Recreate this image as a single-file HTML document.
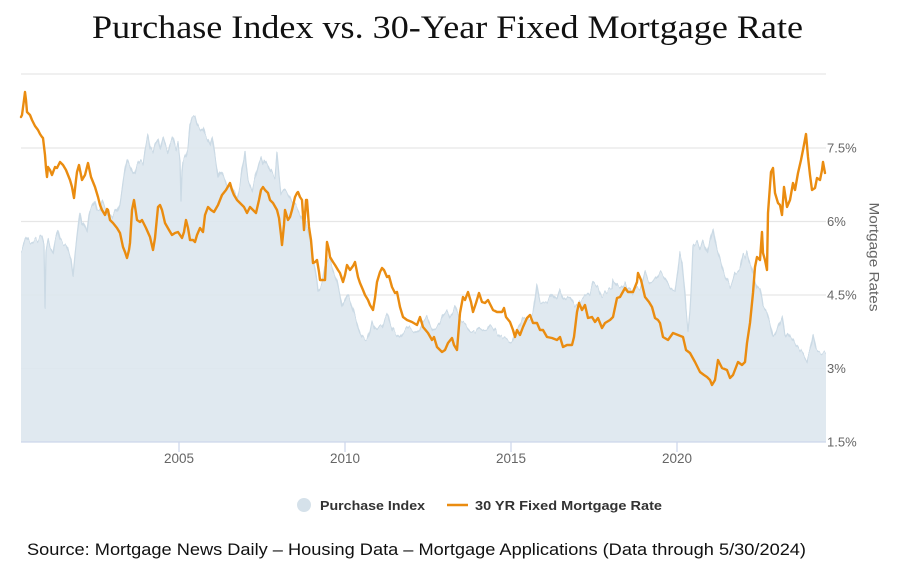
<!DOCTYPE html>
<html>
<head>
<meta charset="utf-8">
<style>
  html, body { margin: 0; padding: 0; background: #ffffff; }
  body { width: 898px; height: 570px; overflow: hidden; }
  svg { display: block; }
</style>
</head>
<body>
<svg width="898" height="570" viewBox="0 0 898 570" xmlns="http://www.w3.org/2000/svg">
  <defs>
    <filter id="rough" filterUnits="userSpaceOnUse" x="0" y="60" width="898" height="400">
      <feTurbulence type="fractalNoise" baseFrequency="0.45 0.002" numOctaves="1" seed="7" result="noise"/>
      <feColorMatrix in="noise" type="matrix" values="1 0 0 0 0  0 0 0 0 0.5  0 0 0 0 0.5  0 0 0 0 1" result="nm"/>
      <feDisplacementMap in="SourceGraphic" in2="nm" scale="10" xChannelSelector="G" yChannelSelector="R"/>
    </filter>
    <clipPath id="plotclip">
      <rect x="21" y="60" width="805" height="382"/>
    </clipPath>
  </defs>
  <rect x="0" y="0" width="898" height="570" fill="#ffffff"/>

  <!-- Title -->
  <text x="92" y="38" font-family="'Liberation Serif', serif" font-size="33" fill="#111" textLength="711" lengthAdjust="spacingAndGlyphs">Purchase Index vs. 30-Year Fixed Mortgage Rate</text>

  <!-- Gridlines -->
  <g stroke="#e6e6e6" stroke-width="1.2">
    <line x1="21" y1="74" x2="826" y2="74"/>
    <line x1="21" y1="148" x2="826" y2="148"/>
    <line x1="21" y1="221.5" x2="826" y2="221.5"/>
    <line x1="21" y1="295" x2="826" y2="295"/>
    <line x1="21" y1="368.5" x2="826" y2="368.5"/>
  </g>

  <!-- Purchase Index area -->
  <g clip-path="url(#plotclip)">
  <polygon filter="url(#rough)" fill="#dde7ef" fill-opacity="0.92" stroke="#cbdae5" stroke-width="1.3" stroke-linejoin="round"
    points="21,250 22,250 25,240 27,237 30,242 32,243 35,240 37,242 40,238 42,237 44,245 45,307 46,250 48,240 50,248 53,253 55,240 58,230 60,240 63,243 66,245 68,250 71,260 73,277 75,255 77,237 79,220 80,212 82,225 83,223 85,228 87,233 89,215 90,210 93,205 95,200 97,210 100,210 102,200 105,207 108,215 112,217 115,210 117,213 120,203 122,190 123,183 125,170 127,160 130,167 133,175 135,173 137,165 140,160 143,163 145,150 148,135 150,148 153,153 155,145 158,140 160,150 163,137 166,147 168,153 170,145 173,138 176,150 178,143 180,160 181,200 182,170 183,160 186,155 188,147 190,125 192,118 195,117 197,125 200,130 203,127 205,135 208,140 210,145 212,137 214,150 215,157 217,170 218,177 220,170 222,173 225,180 227,187 230,185 232,190 235,192 237,197 240,185 242,170 244,160 245,152 246,165 248,180 250,185 252,190 255,178 257,170 259,162 261,157 263,165 265,160 268,165 270,170 273,175 275,177 277,153 279,175 281,193 284,190 287,193 290,198 292,203 295,205 297,207 300,213 303,220 306,225 308,230 310,240 312,250 315,267 317,280 318,290 320,287 322,283 325,267 327,263 330,260 333,270 337,280 340,295 342,307 345,300 347,295 349,297 351,303 353,310 356,320 358,327 360,333 362,337 365,340 367,340 370,330 372,320 375,328 377,330 380,327 382,327 385,318 388,313 390,322 393,330 396,333 400,337 403,332 407,327 410,330 413,330 417,333 420,330 423,322 427,317 430,325 433,330 437,327 440,323 443,315 447,310 450,317 453,312 455,307 458,315 460,320 465,323 470,330 475,333 480,327 484,330 487,330 490,325 493,327 497,333 500,337 504,338 507,340 510,342 512,343 515,335 517,330 520,325 523,317 527,320 530,320 533,313 535,300 537,283 539,295 540,300 543,302 547,302 550,297 552,293 555,298 557,300 560,290 563,298 565,300 568,297 570,297 573,303 575,307 578,303 580,300 583,299 585,297 588,295 590,293 593,282 596,285 598,287 600,293 602,297 605,294 607,292 610,290 612,290 613,280 615,282 618,287 620,288 623,285 625,283 627,288 630,290 633,293 635,287 637,288 640,290 643,280 645,272 648,280 650,283 653,282 655,280 658,276 660,272 663,275 665,278 668,283 670,287 673,290 675,290 678,270 680,253 682,262 683,273 685,295 686,310 688,330 690,310 691,293 693,247 695,245 697,242 700,250 703,242 705,248 707,253 710,240 713,228 715,240 717,250 720,260 722,268 725,277 728,282 730,287 733,280 735,273 738,272 740,270 743,255 745,258 747,252 749,260 751,265 753,273 755,280 757,287 760,290 762,300 763,307 765,310 767,313 770,323 773,337 775,335 777,330 780,322 782,317 784,330 785,337 788,332 790,336 793,340 796,345 798,347 800,350 803,353 805,357 807,360 808,355 810,350 812,342 813,335 815,345 816,350 818,352 820,352 823,353 826,353 830,353 830,452 16,452 16,250"/>
  </g>

  <!-- X axis line and ticks -->
  <line x1="21" y1="442" x2="826" y2="442" stroke="#ccd6eb" stroke-width="1.2"/>
  <g stroke="#ccd6eb" stroke-width="1.2">
    <line x1="179" y1="442" x2="179" y2="452"/>
    <line x1="345" y1="442" x2="345" y2="452"/>
    <line x1="511" y1="442" x2="511" y2="452"/>
    <line x1="677" y1="442" x2="677" y2="452"/>
  </g>

  <!-- 30 YR Fixed Mortgage Rate line -->
  <polyline fill="none" stroke="#ea8c10" stroke-width="2.4" stroke-linejoin="round" stroke-linecap="round"
    points="21,117 22,115 24,100 25,92 26,100 27,112 30,115 32,120 35,126 38,130 40,134 42,137 43,138 45,155 46,168 47,177 48,167 50,170 52,175 55,167 57,168 60,162 63,165 66,170 68,175 70,180 72,187 74,198 76,180 77,172 79,165 82,180 85,175 88,163 91,177 93,182 95,187 98,197 100,205 102,210 105,215 107,209 108,210 110,220 113,223 117,228 120,233 123,247 125,252 127,258 129,250 130,243 132,210 134,200 136,213 137,220 140,222 142,220 146,228 150,237 153,250 155,238 158,207 160,205 162,210 165,223 169,230 172,235 175,233 178,232 180,235 182,238 184,232 186,220 188,228 190,240 193,240 195,242 197,235 200,228 203,232 205,215 208,207 211,210 214,212 218,205 222,195 226,190 230,183 232,190 234,195 237,200 240,203 244,207 247,213 250,207 253,210 256,213 259,200 261,190 263,187 265,190 268,193 270,200 273,203 277,210 279,218 281,235 282,245 284,225 285,210 288,220 290,217 292,210 295,197 297,193 298,192 300,197 302,200 304,230 306,200 307,200 309,227 311,240 313,263 315,262 317,260 319,272 320,280 323,280 325,280 327,242 329,250 330,257 333,262 335,265 338,270 340,273 343,282 345,275 347,265 350,270 353,266 355,262 358,277 360,283 363,290 365,295 368,300 370,305 373,310 375,298 377,282 380,272 382,268 384,270 387,277 389,276 392,287 395,293 397,292 400,307 403,317 407,320 412,322 417,325 420,317 423,327 428,333 432,340 434,337 437,347 442,352 445,350 448,343 452,338 454,345 457,350 460,313 463,297 465,300 468,292 471,302 473,312 476,303 479,293 482,302 485,303 488,300 493,310 497,312 502,312 504,308 506,317 510,322 513,330 515,337 517,330 520,335 523,327 527,318 530,315 533,323 537,323 540,330 543,330 547,337 552,338 557,340 560,337 563,347 567,345 572,345 574,337 577,312 579,303 582,310 585,305 588,318 592,317 595,322 598,318 602,328 605,323 610,320 613,317 617,298 620,297 625,288 628,292 633,292 637,282 638,273 641,280 645,297 649,302 652,307 655,318 658,320 660,323 663,337 668,340 673,333 678,335 683,337 686,350 690,353 695,362 700,372 704,375 707,377 710,380 712,385 715,380 718,360 722,368 727,370 730,378 733,375 738,362 742,365 745,362 747,343 750,323 753,293 755,267 757,257 760,260 762,232 763,253 765,260 767,270 768,213 771,172 773,168 775,193 778,203 780,205 782,215 784,187 787,207 790,200 793,183 795,190 798,173 801,160 803,150 806,134 808,157 810,175 812,190 815,188 817,178 820,180 822,170 823,162 825,173"/>

  <!-- X axis labels -->
  <g font-family="'Liberation Sans', sans-serif" font-size="13.5" fill="#666" text-anchor="middle">
    <text x="179" y="463">2005</text>
    <text x="345" y="463">2010</text>
    <text x="511" y="463">2015</text>
    <text x="677" y="463">2020</text>
  </g>

  <!-- Right axis labels -->
  <g font-family="'Liberation Sans', sans-serif" font-size="13" fill="#666">
    <text x="827" y="152.5">7.5%</text>
    <text x="827" y="226">6%</text>
    <text x="827" y="299.5">4.5%</text>
    <text x="827" y="373">3%</text>
    <text x="827" y="446.5">1.5%</text>
  </g>

  <!-- Right axis title -->
  <text x="873" y="257" transform="rotate(90 873 257)" font-family="'Liberation Sans', sans-serif" font-size="13.5" fill="#666" text-anchor="middle" dominant-baseline="middle" textLength="109" lengthAdjust="spacingAndGlyphs">Mortgage Rates</text>

  <!-- Legend -->
  <circle cx="304" cy="505" r="7" fill="#d5e1ea"/>
  <text x="320" y="510" font-family="'Liberation Sans', sans-serif" font-size="13" font-weight="bold" fill="#333" textLength="105" lengthAdjust="spacingAndGlyphs">Purchase Index</text>
  <line x1="447" y1="505" x2="468" y2="505" stroke="#ea8c10" stroke-width="2.4"/>
  <text x="475" y="510" font-family="'Liberation Sans', sans-serif" font-size="13" font-weight="bold" fill="#333" textLength="187" lengthAdjust="spacingAndGlyphs">30 YR Fixed Mortgage Rate</text>

  <!-- Source -->
  <text x="27" y="555" font-family="'Liberation Sans', sans-serif" font-size="16.5" fill="#111" textLength="779" lengthAdjust="spacingAndGlyphs">Source: Mortgage News Daily – Housing Data – Mortgage Applications (Data through 5/30/2024)</text>
</svg>
</body>
</html>
